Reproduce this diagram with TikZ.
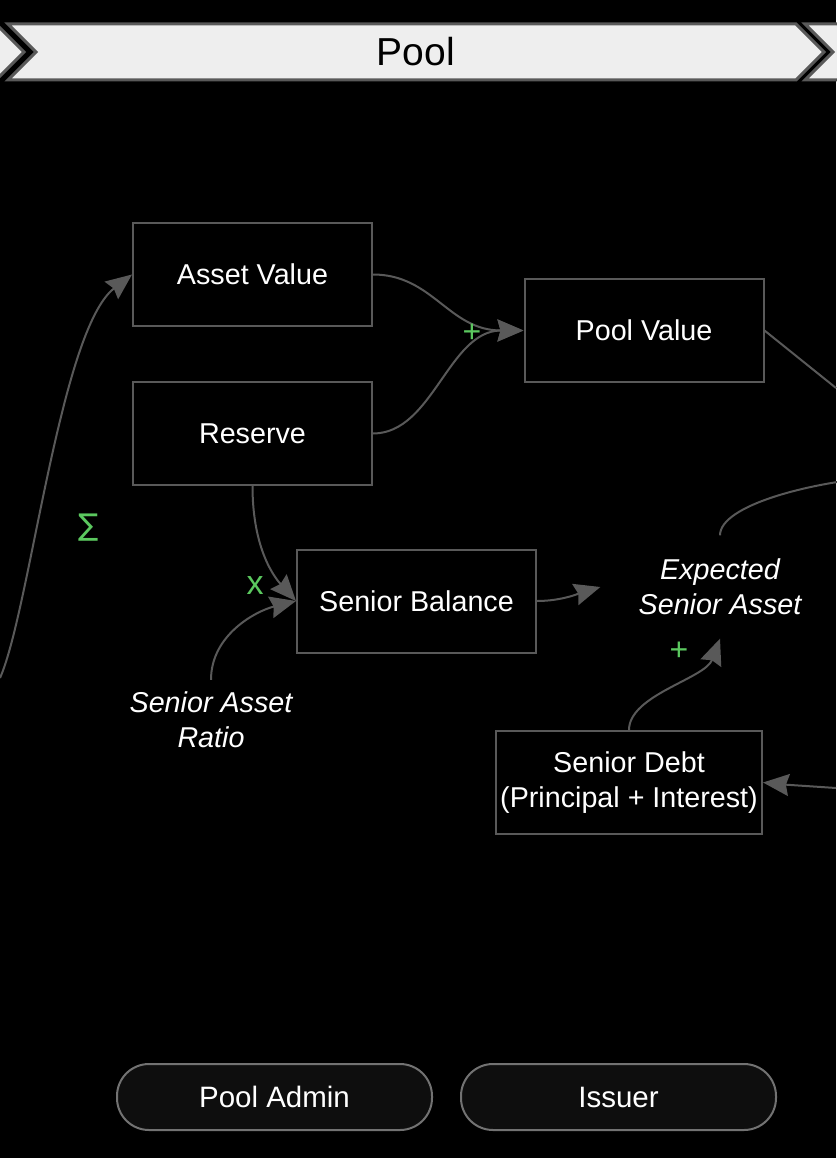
\documentclass[tikz,border=0pt]{standalone}
\usepackage{fontspec}
\setmainfont{Liberation Sans}
\newfontfamily\symfont{DejaVu Sans}
\usetikzlibrary{positioning,arrows.meta}
\definecolor{edgegray}{HTML}{595959}
\definecolor{signgreen}{HTML}{5BC85F}
\definecolor{bannerfill}{HTML}{EEEEEE}
\definecolor{pillfill}{HTML}{0E0E0E}

\begin{document}
\begin{tikzpicture}[
    x=1pt, y=-1pt,
    font=\fontsize{28.7}{35}\selectfont,
    block/.style={draw=edgegray, line width=2pt, minimum width=239pt, minimum height=103pt, inner sep=0pt, text=white, align=center},
    quantity/.style={minimum width=239pt, minimum height=103pt, inner sep=0pt, text=white, align=center, font=\fontsize{28.7}{35}\selectfont\itshape},
    actor/.style={draw=edgegray!85, fill=pillfill, line width=2pt, rounded corners=32pt, minimum width=315pt, minimum height=66pt, text=white, font=\fontsize{29.5}{35}\selectfont},
    sign/.style={text=signgreen, inner sep=0pt, font=\fontsize{32}{34}\selectfont},
    banner/.style={draw=edgegray, line width=3pt, fill=bannerfill},
    flow/.style={draw=edgegray, line width=2pt, -{Stealth[length=26pt, width=22pt, inset=3pt]}},
    link/.style={draw=edgegray, line width=2pt}
]
\fill[black] (0,0) rectangle (836,1158);
\useasboundingbox (0,0) rectangle (836,1158);

\path[banner] (-60,24) -- (-4,24) -- (24,52) -- (-4,80) -- (-60,80) -- cycle;
\path[banner] (8,24) -- (796,24) -- (824,52) -- (796,80) -- (8,80) -- (36,52) -- cycle;
\path[banner] (805,24) -- (880,24) -- (880,80) -- (805,80) -- (833,52) -- cycle;
\node[font=\fontsize{39}{40}\selectfont, text=black] (title) at (416,52) {Pool};

\node[block] (asset) at (252.5,274.5) {Asset Value};
\node[block, below=54pt of asset] (reserve) {Reserve};
\node[block] (pool) at (644,330.5) {Pool Value};
\node[block] (senbal) at (416.5,601) {Senior Balance};
\node[block, minimum width=266pt] (debt) at (629,782.5) {Senior Debt\\(Principal + Interest)};
\node[quantity] (esa) at (720,587) {Expected\\Senior Asset};
\node[quantity, minimum width=170pt, minimum height=80pt] (sar) at (211,720) {Senior Asset\\Ratio};

\node[actor] (padmin) at (274.5,1097) {Pool Admin};
\node[actor, right=27pt of padmin] (issuer) {Issuer};

\coordinate (inL) at (0,678);
\coordinate (outPool) at (836,388);
\coordinate (outEsa) at (870,478);
\coordinate (inDebt) at (836,788);

\draw[flow] (inL) .. controls (30,610) and (60,330) .. (asset.west);
\draw[flow] (asset.east) .. controls +(60,0) and +(-75,0) .. (pool.west);
\draw[flow] (reserve.east) .. controls +(60,0) and +(-75,0) .. (pool.west);
\draw[flow] (reserve.south) .. controls +(0,65) and +(-20,-22) .. (senbal.west);
\draw[flow] (sar.north) .. controls +(0,-45) and +(-40,10) .. (senbal.west);
\draw[flow] (senbal.east) .. controls +(25,0) and +(-20,6) .. (esa.west);
\draw[flow] (debt.north) .. controls +(0,-35) and +(-15,40) .. (esa.south);
\draw[link] (esa.north) .. controls +(0,-30) and +(-60,5) .. (outEsa);
\draw[link] (pool.east) -- (outPool);
\draw[flow] (inDebt) .. controls (810,787) .. (debt.east);

\node[sign, font=\symfont\fontsize{30}{32}\selectfont] (sum) at (89,528) {∑};
\node[sign] (plusPool) at (472,333) {+};
\node[sign, font=\fontsize{34}{36}\selectfont] (times) at (255,586) {x};
\node[sign] (plusEsa) at (679,651) {+};
\end{tikzpicture}
\end{document}
